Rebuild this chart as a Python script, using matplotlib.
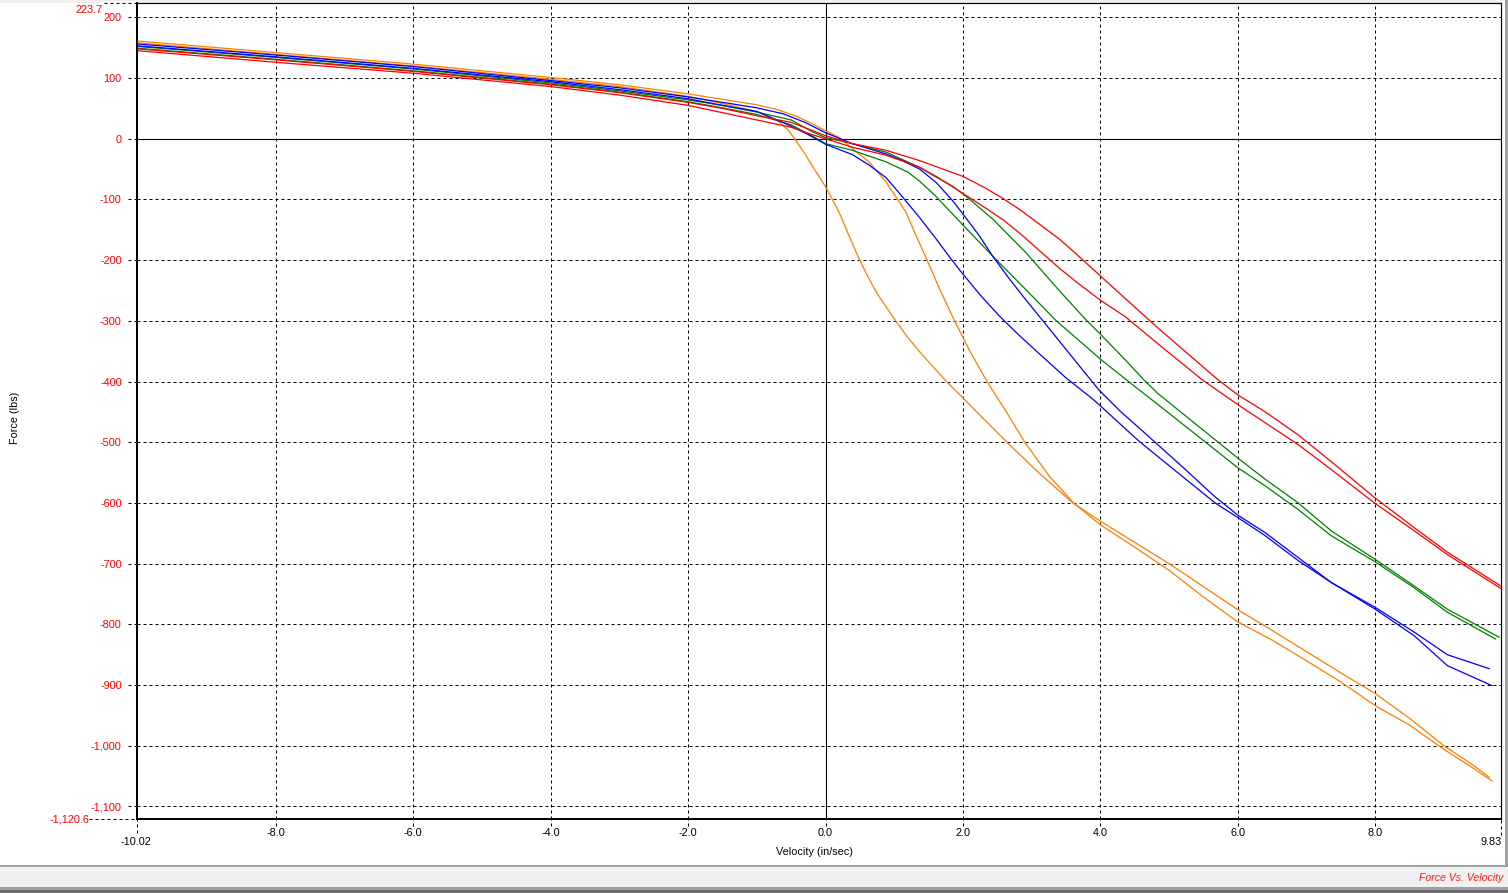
import matplotlib
matplotlib.use('Agg')
import matplotlib.pyplot as plt
import matplotlib.transforms as mtransforms
from matplotlib.patches import Rectangle

plt.rcParams['font.family'] = ['Liberation Sans', 'DejaVu Sans']

# ---------------- data ----------------
X_MIN, X_MAX = -10.02, 9.83
Y_MIN, Y_MAX = -1120.6, 223.7

x_ticks = [-8.0, -6.0, -4.0, -2.0, 0.0, 2.0, 4.0, 6.0, 8.0]
x_tick_labels = ['-8.0', '-6.0', '-4.0', '-2.0', '0.0', '2.0', '4.0', '6.0', '8.0']
y_ticks = [200, 100, 0, -100, -200, -300, -400, -500, -600, -700, -800, -900, -1000, -1100]
y_tick_labels = ['200', '100', '0', '-100', '-200', '-300', '-400', '-500', '-600',
                 '-700', '-800', '-900', '-1,000', '-1,100']
x_end_labels = ['-10.02', '9.83']
y_end_labels = ['223.7', '-1,120.6']

# orange loop
orange_a_v = [-10.0, -8.0, -6.0, -4.0, -3.0, -2.0, -1.5, -1.0, -0.7, -0.55, -0.45, -0.3, -0.18, 0.0,
              0.1, 0.2, 0.35, 0.48, 0.62, 0.75, 0.9, 1.02, 1.2, 1.4, 1.6, 1.76, 2.0, 2.2, 2.64,
              3.1, 3.6, 4.0, 4.5, 5.0, 5.5, 6.0, 6.5, 7.0, 7.5, 8.0, 8.5, 9.0, 9.4, 9.66]
orange_a_f = [158, 139, 120, 98, 86, 70, 58, 45, 30, 15, 0, -25, -47, -79,
              -100, -122, -162, -196, -228, -255, -280, -300, -328, -355, -380, -400, -427, -450, -500,
              -550, -600, -630, -665, -700, -738, -776, -810, -845, -880, -914, -955, -1000, -1030, -1052]
orange_b_v = [-10.0, -8.0, -6.0, -4.0, -3.0, -2.0, -1.5, -1.0, -0.7, -0.42, -0.2, 0.0, 0.2, 0.39,
              0.63, 0.88, 1.02, 1.17, 1.3, 1.47, 1.65, 1.86, 2.1, 2.35, 2.62, 2.9, 3.25, 3.61, 4.0,
              4.5, 5.0, 5.5, 6.0, 6.5, 7.0, 7.5, 8.0, 8.5, 9.0, 9.4, 9.7]
orange_b_f = [161, 142, 123, 101, 89, 74, 65, 56, 48, 37, 25, 13, 2, -16,
              -38, -71, -95, -121, -155, -198, -245, -296, -350, -400, -448, -500, -555, -600, -636,
              -673, -711, -755, -796, -826, -860, -895, -934, -966, -1006, -1035, -1058]

# blue loop
blue_a_v = [-10.0, -8.0, -6.0, -4.0, -3.0, -2.0, -1.5, -1.0, -0.61, -0.3, 0.0, 0.39, 0.88, 1.12,
            1.37, 1.61, 1.85, 2.0, 2.24, 2.43, 2.67, 2.92, 3.2, 3.45, 3.75, 3.98, 4.3, 4.56, 5.19,
            5.67, 6.0, 6.4, 6.88, 7.36, 8.0, 8.57, 9.05, 9.66]
blue_a_f = [156, 138, 119, 96, 84, 69, 60, 51, 41, 27, 10, -8, -25, -36,
            -50, -72, -102, -124, -160, -193, -230, -266, -305, -340, -382, -414, -450, -476, -540,
            -590, -620, -649, -690, -731, -772, -813, -850, -873]
blue_b_v = [-10.0, -8.0, -6.0, -4.0, -3.0, -2.0, -1.5, -1.0, -0.6, -0.27, 0.0, 0.39, 0.63, 0.88,
            1.07, 1.37, 1.61, 1.8, 1.95, 2.24, 2.53, 2.82, 3.11, 3.49, 3.88, 3.98, 4.56, 5.19,
            5.67, 6.0, 6.4, 6.88, 7.36, 8.0, 8.57, 9.05, 9.7]
blue_b_f = [153, 135, 116, 94, 81, 66, 55, 45, 26, 8, -9, -26, -43, -64,
            -89, -130, -165, -194, -216, -256, -292, -324, -354, -393, -428, -438, -498, -556,
            -600, -624, -654, -695, -731, -775, -819, -868, -901]

# green loop
green_a_v = [-10.0, -8.0, -6.0, -4.0, -3.0, -2.0, -1.5, -1.0, -0.5, -0.2, 0.0, 0.39, 0.88, 1.37,
             1.56, 1.85, 2.0, 2.1, 2.43, 2.92, 3.4, 3.78, 4.0, 4.36, 4.64, 4.84, 6.0, 6.4, 6.88,
             7.36, 8.0, 8.57, 9.05, 9.8]
green_a_f = [152, 134, 115, 92, 79, 64, 55, 44, 31, 12, 2, -8, -22, -47,
             -60, -78, -91, -100, -132, -188, -250, -297, -322, -364, -398, -420, -526, -561, -600,
             -646, -693, -737, -775, -821]
green_b_v = [-10.0, -8.0, -6.0, -4.0, -3.0, -2.0, -1.5, -1.0, -0.5, -0.2, 0.0, 0.39, 0.88, 1.2,
             1.37, 1.59, 2.0, 2.43, 2.92, 3.35, 4.0, 4.41, 4.84, 6.0, 6.4, 6.88, 7.36, 8.0, 8.57,
             9.05, 9.75]
green_b_f = [149, 131, 112, 90, 77, 61, 51, 40, 23, 5, -8, -19, -38, -55,
             -70, -93, -142, -193, -249, -299, -363, -400, -438, -542, -572, -611, -654, -697, -740,
             -780, -824]

# red loop
red_a_v = [-10.0, -8.0, -6.0, -4.0, -3.0, -2.0, -1.5, -1.0, -0.5, -0.2, 0.0, 0.39, 0.88, 1.37,
           2.0, 2.34, 2.59, 2.83, 3.4, 3.64, 4.0, 4.36, 4.84, 5.7, 6.0, 6.4, 6.88, 7.36, 8.0,
           8.57, 9.05, 9.83]
red_a_f = [148, 130, 111, 89, 76, 60, 50, 38, 27, 14, 5, -8, -19, -36,
           -62, -82, -99, -117, -165, -189, -226, -263, -312, -396, -422, -450, -488, -532, -592,
           -641, -681, -737]
red_b_v = [-10.0, -8.0, -6.0, -4.0, -3.0, -2.0, -1.5, -1.0, -0.5, -0.2, 0.0, 0.39, 0.88, 1.37,
           1.61, 2.0, 2.34, 2.59, 2.83, 3.4, 3.64, 4.0, 4.36, 4.84, 5.48, 6.0, 6.4, 6.88, 7.36,
           8.0, 8.57, 9.05, 9.83]
red_b_f = [145, 126, 108, 86, 72, 55, 43, 31, 19, 7, 0, -14, -27, -47,
           -62, -90, -115, -134, -156, -213, -235, -266, -293, -338, -397, -438, -468, -504, -545,
           -601, -646, -685, -741]

# ---------------- figure ----------------
W, H = 1508, 893
fig = plt.figure(figsize=(W / 100, H / 100), dpi=100)
fig.patch.set_facecolor('white')

# window chrome (decoration)
fig.add_artist(Rectangle((0, 1 - 3 / H), 1, 3 / H, transform=fig.transFigure,
                         facecolor='#f0f0f0', edgecolor='none', zorder=0))
fig.add_artist(Rectangle((1505 / W, (H - 865) / H), 3 / W, 865 / H, transform=fig.transFigure,
                         facecolor='#a0a0a0', edgecolor='none', zorder=0))
fig.add_artist(Rectangle((0, (H - 867) / H), 1, 2 / H, transform=fig.transFigure,
                         facecolor='#a0a0a0', edgecolor='none', zorder=0))
fig.add_artist(Rectangle((0, (H - 887) / H), 1, 20 / H, transform=fig.transFigure,
                         facecolor='#f0f0f0', edgecolor='none', zorder=0))
fig.add_artist(Rectangle((0, 0), 1, 3 / H, transform=fig.transFigure,
                         facecolor='#696969', edgecolor='none', zorder=0))
fig.add_artist(Rectangle((0, 3 / H), 1, 3 / H, transform=fig.transFigure,
                         facecolor='#a0a0a0', edgecolor='none', zorder=0))

L, R, T, B = 137, 1501, 3, 819
ax = fig.add_axes([L / W, (H - B) / H, (R - L) / W, (B - T) / H])
ax.set_xlim(X_MIN, X_MAX)
ax.set_ylim(Y_MIN, Y_MAX)

PX = 0.72  # one pixel in points
dash = (0, (3, 3))

ax.set_xticks(x_ticks)
ax.set_xticklabels(x_tick_labels)
ax.set_yticks(y_ticks)
ax.set_yticklabels(y_tick_labels)
ax.tick_params(axis='both', length=0, labelsize=7.8)
ax.tick_params(axis='y', pad=11, labelcolor='#ff0000')
ax.tick_params(axis='x', pad=6.2, labelcolor='black')
ax.grid(True, color='black', linestyle=dash, linewidth=PX, zorder=1)
ax.axhline(0, color='black', linewidth=PX * 1.1, zorder=2)
ax.axvline(0, color='black', linewidth=PX * 1.1, zorder=2)

for side in ('top', 'right'):
    ax.spines[side].set_linewidth(PX * 1.2)
for side in ('left', 'bottom'):
    ax.spines[side].set_linewidth(PX * 2)

# dashed tick extensions
ytr = mtransforms.blended_transform_factory(ax.transAxes, ax.transData)
xtr = mtransforms.blended_transform_factory(ax.transData, ax.transAxes)
aw, ah = (R - L), (B - T)
for yv in y_ticks:
    ax.plot([-9 / aw, 0], [yv, yv], transform=ytr, clip_on=False, color='black',
            linestyle=dash, linewidth=PX)
for xv in x_ticks:
    ax.plot([xv, xv], [-6.5 / ah, 0], transform=xtr, clip_on=False, color='black',
            linestyle=dash, linewidth=PX)
ax.plot([-33 / aw, 0], [Y_MAX, Y_MAX], transform=ytr, clip_on=False, color='black',
        linestyle=dash, linewidth=PX)
ax.plot([-48 / aw, 0], [Y_MIN, Y_MIN], transform=ytr, clip_on=False, color='black',
        linestyle=dash, linewidth=PX)
ax.plot([X_MIN, X_MIN], [-14 / ah, 1], transform=xtr, clip_on=False, color='black',
        linestyle=dash, linewidth=PX, zorder=1)
ax.plot([X_MAX, X_MAX], [-16 / ah, 0], transform=xtr, clip_on=False, color='black',
        linestyle=dash, linewidth=PX)

# end labels
ax.annotate(y_end_labels[0], xy=(0, Y_MAX), xycoords=ytr, xytext=(-34, -7),
            textcoords='offset pixels', ha='right', va='center', color='#ff0000', fontsize=7.8)
ax.annotate(y_end_labels[1], xy=(0, Y_MIN), xycoords=ytr, xytext=(-48, 0),
            textcoords='offset pixels', ha='right', va='center', color='#ff0000', fontsize=7.8)
ax.annotate(x_end_labels[0], xy=(X_MIN, 0), xycoords=xtr, xytext=(-1, -23),
            textcoords='offset pixels', ha='center', va='center', color='black', fontsize=7.8)
ax.annotate(x_end_labels[1], xy=(X_MAX, 0), xycoords=xtr, xytext=(1, -23),
            textcoords='offset pixels', ha='right', va='center', color='black', fontsize=7.8)

# curves
LW = 0.9
series = [
    (orange_a_v, orange_a_f, '#ff8000'), (orange_b_v, orange_b_f, '#ff8000'),
    (green_a_v, green_a_f, '#008000'), (green_b_v, green_b_f, '#008000'),
    (blue_a_v, blue_a_f, '#0000ff'), (blue_b_v, blue_b_f, '#0000ff'),
    (red_a_v, red_a_f, '#ff0000'), (red_b_v, red_b_f, '#ff0000'),
]
for v, f, c in series:
    ax.plot(v, f, color=c, linewidth=LW, zorder=3)

# axis titles
fig.text(814 / W, 1 - 852 / H, 'Velocity (in/sec)', ha='center', va='center',
         fontsize=7.8, color='black')
fig.text(15 / W, 1 - 418 / H, 'Force (lbs)', ha='center', va='center', rotation=90,
         fontsize=7.8, color='black')
fig.text(1503 / W, 1 - 878 / H, 'Force Vs. Velocity', ha='right', va='center',
         fontsize=7.6, style='italic', color='#ff2020')

fig.savefig('out.png', dpi=100, facecolor=fig.get_facecolor())
